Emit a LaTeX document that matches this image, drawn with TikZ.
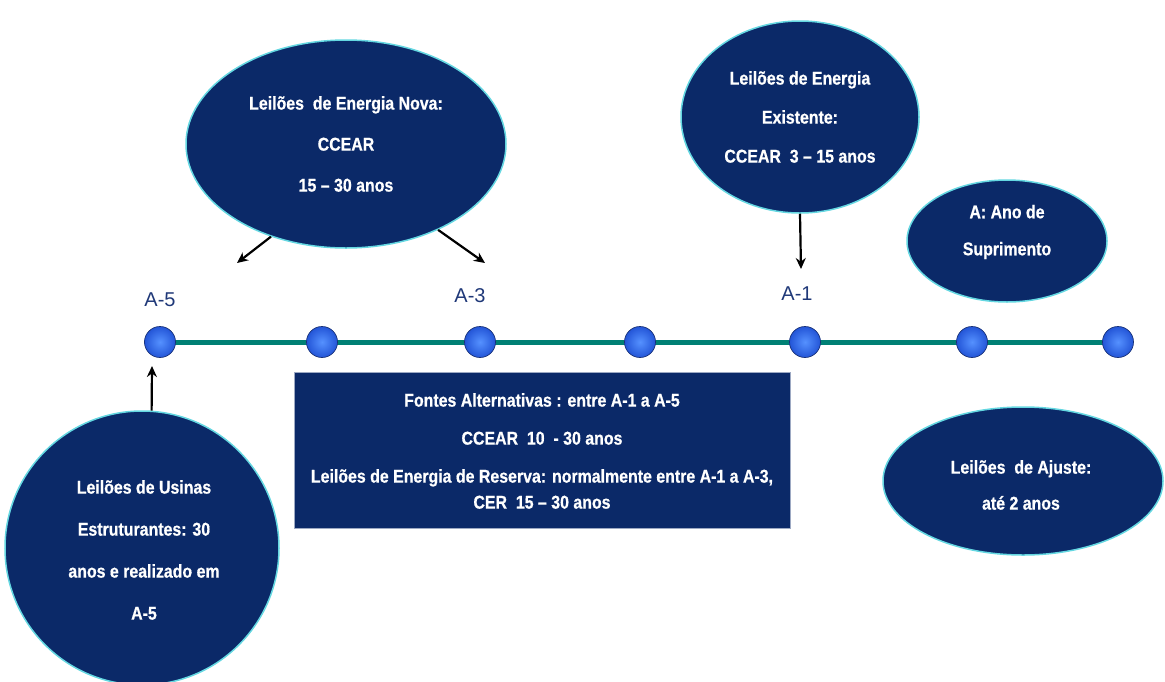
\documentclass[tikz,border=0pt]{standalone}
\usepackage{fontspec}
\setmainfont{Liberation Sans}
\newfontfamily\nb[FakeStretch=0.86,FakeBold=0.6]{Liberation Sans Bold}
\usetikzlibrary{arrows.meta,shapes.geometric}
\pgfdeclarelayer{background}
\pgfsetlayers{background,main}
\definecolor{navy}{RGB}{11,41,104}
\definecolor{rim}{RGB}{100,215,225}
\definecolor{tealline}{RGB}{0,128,116}
\definecolor{dotin}{RGB}{85,145,255}
\definecolor{dotout}{RGB}{35,85,215}
\definecolor{dotrim}{RGB}{25,50,120}
\definecolor{lblblue}{RGB}{31,56,120}
\tikzset{
  bubble/.style={ellipse, fill=navy, draw=rim, line width=1.5pt, inner sep=0pt},
  panel/.style={rectangle, fill=navy, draw=navy!40!white, line width=0.8pt, inner sep=0pt},
  txt/.style={text=white, align=center, font=\nb\fontsize{18.5}{#1}\selectfont},
  txt/.default=40,
  dotball/.style={circle, minimum size=31pt, inner sep=0pt, inner color=dotin, outer color=dotout, draw=dotrim, line width=0.7pt},
  ylbl/.style={text=lblblue, font=\fontsize{20}{24}\selectfont},
  arr/.style={-{Stealth[length=11pt,width=10pt]}, line width=2.2pt, black},
}
\begin{document}
\begin{tikzpicture}[x=1pt,y=-1pt]
\useasboundingbox (0,0) rectangle (1165,681);
\clip (0,0) rectangle (1165,681);

% timeline dots
\node[dotball] (d1) at (160,342) {};
\node[dotball] (d2) at (322,342) {};
\node[dotball] (d3) at (480,342) {};
\node[dotball] (d4) at (640,342) {};
\node[dotball] (d5) at (805,342) {};
\node[dotball] (d6) at (972,342) {};
\node[dotball] (d7) at (1118,342) {};
\begin{pgfonlayer}{background}
  \draw[tealline, line width=5pt] (d1.center) -- (d7.center);
\end{pgfonlayer}

% year labels
\node[ylbl] (l5) at (160,300) {A-5};
\node[ylbl] (l3) at (470,296) {A-3};
\node[ylbl] (l1) at (797,294) {A-1};

% bubbles
\node[bubble, minimum width=320pt, minimum height=208pt] (e1) at (346,144) {};
\node[txt=41] (t1) at (346,144) {Leilões\ \ de Energia Nova:\\CCEAR\\15 – 30 anos};

\node[bubble, minimum width=238pt, minimum height=192pt] (e2) at (800,117) {};
\node[txt=39] (t2) at (800,117) {Leilões de Energia\\Existente:\\CCEAR\ \ 3 – 15 anos};

\node[bubble, minimum width=200pt, minimum height=122pt] (e3) at (1007,241) {};
\node[txt=37] (t3) at (1007,232) {A: Ano de\\Suprimento};

\node[bubble, minimum width=280pt, minimum height=148pt] (e4) at (1023,481) {};
\node[txt=36] (t4) at (1021,485) {Leilões\ \ de Ajuste:\\até 2 anos};

\node[bubble, minimum width=274pt, minimum height=274pt] (e5) at (142,548) {};
\node[txt=42] (t5) at (144,550) {Leilões de Usinas\\Estruturantes: 30\\anos e realizado em\\A-5};

\node[panel, minimum width=496pt, minimum height=156pt] (p1) at (542,450) {};
\node[txt=26] (tp) at (542,451) {Fontes Alternativas : entre A-1 a A-5\\[12pt]CCEAR\ \ 10\ \ - 30 anos\\[12pt]Leilões de Energia de Reserva: normalmente entre A-1 a A-3,\\CER\ \ 15 – 30 anos};

% arrow ends
\coordinate (a1) at (237,263);
\coordinate (a2) at (485,263);
\coordinate (a3) at (801,269);
\coordinate (a4) at (152,366);

\draw[arr] (e1.231) -- (a1);
\draw[arr] (e1.317) -- (a2);
\draw[arr] (e2.south) -- (a3);
\draw[arr] (e5.86) -- (a4);
\end{tikzpicture}
\end{document}
